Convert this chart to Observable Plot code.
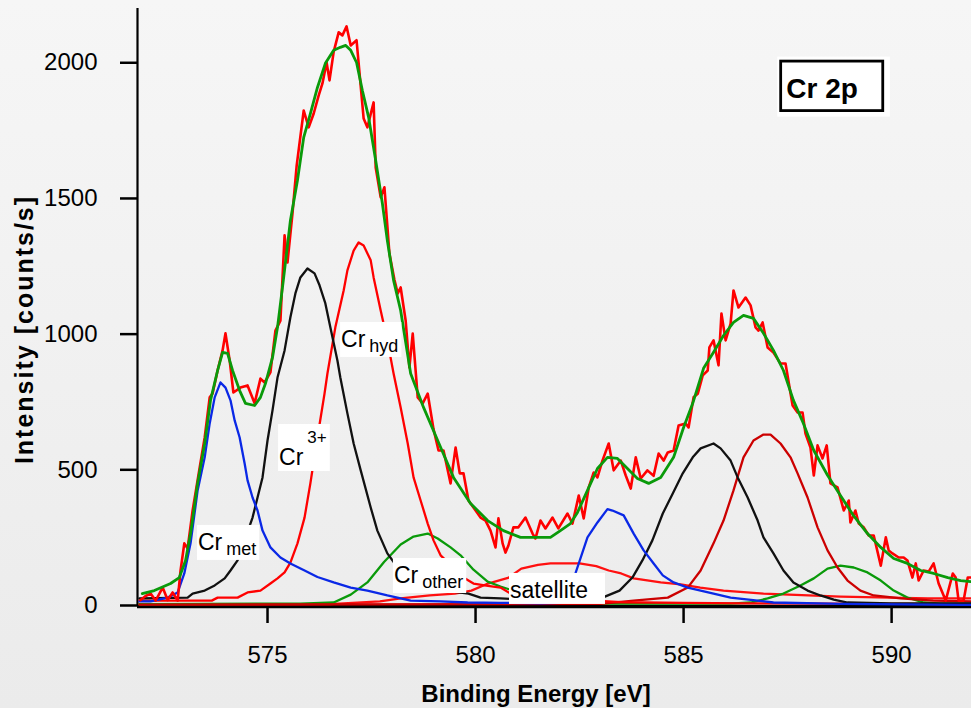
<!DOCTYPE html>
<html>
<head>
<meta charset="utf-8">
<script src="https://cdn.jsdelivr.net/npm/d3@7"></script>
<script src="https://cdn.jsdelivr.net/npm/@observablehq/plot@0.6"></script>
<style>
  html, body { margin: 0; padding: 0; }
  body { width: 971px; height: 708px; overflow: hidden;
         background: linear-gradient(#f6f6f6, #ebebeb); }
</style>
</head>
<body>
<script>
// ---------------- data (binding energy eV, intensity counts/s) ----------------
const xTicks = [575, 580, 585, 590];
const yTicks = [0, 500, 1000, 1500, 2000];
const xDomain = [571.875, 591.92];
const yDomain = [0, 2200];

// measured spectrum (raw)
const rawE = [571.95,572.07,572.19,572.31,572.48,572.60,572.72,572.84,572.91,573.00,
573.08,573.20,573.37,573.49,573.61,573.68,573.80,573.92,573.99,574.09,
574.18,574.35,574.52,574.69,574.83,574.93,575.07,575.19,575.31,575.41,
575.48,575.60,575.70,575.87,575.99,576.11,576.23,576.32,576.42,576.49,
576.59,576.71,576.80,576.90,577.00,577.14,577.31,577.40,577.55,577.60,
577.72,577.81,577.93,578.05,578.13,578.20,578.32,578.41,578.49,578.61,
578.73,578.85,578.99,579.11,579.23,579.40,579.52,579.62,579.71,579.83,
579.95,580.12,580.24,580.36,580.48,580.55,580.65,580.72,580.79,580.91,
581.03,581.20,581.37,581.44,581.56,581.68,581.85,581.99,582.21,582.33,
582.48,582.60,582.72,582.84,582.93,583.05,583.20,583.32,583.49,583.61,
583.73,583.85,583.97,584.13,584.28,584.40,584.52,584.62,584.76,584.88,
585.05,585.12,585.24,585.34,585.46,585.58,585.62,585.72,585.84,585.91,
586.01,586.13,586.20,586.32,586.49,586.61,586.73,586.80,586.90,587.02,
587.16,587.33,587.45,587.62,587.74,587.86,587.93,588.05,588.13,588.22,
588.34,588.44,588.53,588.70,588.85,588.97,589.01,589.13,589.21,589.33,
589.45,589.57,589.74,589.86,589.93,590.02,590.17,590.29,590.38,590.50,
590.58,590.65,590.77,590.89,591.01,591.13,591.30,591.47,591.54,591.61,
591.73,591.83,591.90];
const rawI = [20,35,44,18,66,20,48,18,129,229,
210,350,509,619,767,781,866,940,1003,903,
785,803,811,745,836,822,859,1013,1050,1364,
1264,1445,1620,1824,1762,1813,1880,1924,2001,1935,
2040,2112,2101,2134,2064,2083,1795,1762,1854,1614,
1504,1541,1297,1200,1150,1172,1050,877,1002,767,
745,781,650,571,571,450,582,487,487,387,
361,324,313,276,214,321,229,195,221,288,
288,324,265,247,313,284,324,284,339,302,
405,321,435,490,472,534,597,498,534,479,
431,546,468,498,478,560,534,564,571,663,
671,656,767,780,848,866,951,977,885,1076,
977,1039,1161,1098,1135,1106,1025,1013,1043,951,
932,892,892,737,711,711,634,582,479,590,
542,590,450,435,350,387,306,350,302,288,
258,258,147,251,203,192,177,177,166,103,
155,92,129,125,155,81,18,118,103,18,
18,103,103];

// fit envelope
const envE = [571.99,572.28,572.67,572.88,573.03,573.15,573.32,573.49,573.63,573.80,
573.92,574.04,574.16,574.33,574.47,574.69,574.83,574.95,575.12,575.24,
575.38,575.55,575.72,575.87,576.03,576.20,576.39,576.59,576.75,576.88,
577.00,577.14,577.28,577.43,577.60,577.76,577.88,578.03,578.20,578.44,
578.75,579.09,579.47,579.88,580.29,580.67,581.08,581.80,582.04,582.28,
582.45,582.69,582.93,583.17,583.41,583.65,583.89,584.16,584.45,584.76,
585.00,585.22,585.48,585.72,585.96,586.20,586.44,586.68,586.92,587.16,
587.40,587.64,587.88,588.13,588.46,588.77,589.09,589.42,589.74,590.05,
590.38,590.70,591.01,591.35,591.66,591.90];
const envI = [44,55,81,103,166,265,450,597,756,866,
933,929,866,792,745,737,767,818,914,1025,
1198,1419,1567,1725,1813,1909,1998,2046,2057,2064,
2046,2001,1898,1799,1640,1482,1345,1198,1087,855,
730,608,472,376,313,276,251,251,276,302,
343,424,505,546,542,505,468,450,472,546,
656,745,874,933,995,1043,1069,1058,1003,940,
866,756,671,571,480,405,330,265,214,173,
155,129,118,103,92,88];

// Cr met (blue doublet)
const metE = [571.92,572.19,572.60,572.84,573.00,573.15,573.32,573.49,573.61,573.73,
573.87,573.99,574.11,574.21,574.33,574.45,574.52,574.64,574.76,574.88,
575.07,575.31,575.55,575.89,576.20,576.59,577.00,577.40,577.88,578.44,
579.16,579.81,580.60,581.56,582.04,582.28,582.40,582.69,582.93,583.17,
583.29,583.56,583.80,584.04,584.28,584.50,584.76,585.10,585.41,585.72,
586.13,586.78,587.16,588.77,591.66,591.92];
const metI = [15,15,29,48,118,229,424,546,671,767,
822,803,756,682,619,523,461,398,350,276,
214,177,155,129,105,85,66,55,37,18,
15,11,10,8,10,60,118,251,306,355,
350,332,265,203,155,111,85,66,55,44,
29,18,11,6,2,2];

// Cr3+ (black doublet)
const cr3E = [571.92,573.08,573.20,573.49,573.73,573.97,574.11,574.28,574.45,574.64,
574.76,574.88,575.00,575.12,575.24,575.41,575.55,575.67,575.79,575.96,
576.13,576.25,576.39,576.51,576.68,576.75,576.92,577.07,577.24,577.48,
577.64,577.88,578.08,578.44,578.92,579.40,579.83,580.12,580.60,581.32,
582.00,582.80,583.05,583.46,583.77,584.01,584.25,584.50,584.74,584.98,
585.22,585.41,585.72,585.89,586.13,586.30,586.54,586.78,586.92,587.16,
587.40,587.64,587.98,588.29,588.61,588.94,590.00,591.92];
const cr3I = [26,29,44,55,74,100,129,166,240,324,
398,472,608,719,840,940,1062,1150,1209,1242,
1224,1180,1113,1025,903,840,708,597,498,361,
276,192,150,100,65,52,44,29,26,20,
18,20,29,55,103,166,240,339,413,487,
546,579,597,579,534,472,398,313,251,192,
129,85,55,37,22,11,8,8];

// Cr hyd 2p3/2 (red)
const hydE = [571.92,573.66,573.80,574.28,574.52,574.83,575.07,575.24,575.41,575.55,
575.72,575.89,576.03,576.20,576.37,576.44,576.63,576.83,576.92,577.07,
577.19,577.31,577.48,577.55,577.72,577.88,578.03,578.20,578.37,578.51,
578.68,578.85,578.99,579.16,579.40,579.64,579.95,580.30,580.60,580.84,
581.30,582.00,583.50,585.00,586.50,591.92];
const hydI = [18,18,29,29,48,55,81,100,122,158,
229,324,450,619,781,855,1025,1161,1235,1308,
1338,1327,1272,1209,1087,977,855,730,597,472,
387,302,240,185,150,110,81,72,66,44,
35,25,12,10,8,5];

// Cr hyd 2p1/2 (dark red)
const hyd2E = [571.92,583.00,583.80,584.62,585.10,585.41,585.72,585.96,586.20,586.44,
586.68,586.92,587.09,587.33,587.57,587.74,587.98,588.22,588.46,588.70,
588.94,589.25,589.57,590.22,591.00,591.92];
const hyd2I = [3,6,18,29,66,129,229,313,424,546,
608,630,630,597,546,487,398,288,203,140,
92,55,37,26,18,15];

// Cr other (green doublet)
const othE = [571.92,575.79,576.59,577.00,577.40,577.80,578.20,578.51,578.85,579.09,
579.40,579.64,579.95,580.29,580.60,580.84,581.30,582.00,583.00,586.13,
586.61,587.02,587.40,587.81,588.13,588.46,588.77,589.09,589.42,589.74,
590.05,590.38,590.77,591.18,591.92];
const othI = [5,7,11,40,85,160,225,254,265,247,
214,185,132,88,70,58,38,15,7,7,
11,26,44,74,100,136,147,140,122,92,
55,29,11,7,7];

// satellite (red)
const satE = [571.92,576.50,577.70,578.20,578.90,579.50,579.90,580.30,580.80,581.10,
581.50,581.80,582.50,582.90,583.20,583.50,583.80,584.45,584.93,585.40,
585.96,586.92,588.77,590.87,591.92];
const satI = [5,5,15,26,37,44,55,81,103,136,
150,155,155,145,129,118,100,85,78,66,
55,44,33,26,26];

// annotation labels (anchored in data units)
const labelMain = ["Cr", "Cr", "Cr", "Cr", "satellite"];
const labelSub  = ["met", "", "hyd", "other", ""];
const labelSup  = ["", "3+", "", "", ""];
const labelE    = [573.34, 575.29, 576.78, 578.05, 580.84];
const labelI    = [203, 516, 951, 81, 26];
const titleText = "Cr 2p";
const titleE = 587.48, titleI = 1868;
const xLabel = "Binding Energy [eV]";
const yLabel = "Intensity [counts/s]";

// ---------------- chart ----------------
const pts = (E, I) => E.slice(0, Math.min(E.length, I.length)).map((e, i) => ({e, v: I[i]}));
const line = (E, I, color, w) => Plot.line(pts(E, I), {
  x: "e", y: "v", stroke: color, strokeWidth: w, strokeLinejoin: "round", strokeLinecap: "round"
});

function annotations(index, scales, values, dims) {
  const sx = scales.x, sy = scales.y;
  const g = d3.create("svg:g").attr("text-anchor", "start");
  for (let i = 0; i < labelMain.length; i++) {
    const isSat = labelMain[i] === "satellite";
    const lg = g.append("g").attr("class", "lbl")
      .attr("data-pr", isSat ? 17 : 3)
      .attr("transform", `translate(${sx(labelE[i])},${sy(labelI[i])})`);
    lg.append("rect").attr("fill", "white");
    const t = lg.append("text").attr("fill", "black").attr("font-size", 23);
    t.append("tspan").text(labelMain[i]);
    if (labelSub[i]) t.append("tspan").attr("dx", 4).attr("dy", 5).attr("font-size", 18).text(labelSub[i]);
    if (labelSup[i]) t.append("tspan").attr("dx", 4).attr("dy", -22).attr("font-size", 17).text(labelSup[i]);
  }
  const tg = g.append("g").attr("class", "ttl")
    .attr("transform", `translate(${sx(titleE)},${sy(titleI)})`);
  tg.append("rect").attr("class", "outer").attr("fill", "white");
  tg.append("rect").attr("class", "inner").attr("fill", "none").attr("stroke", "black").attr("stroke-width", 2.8);
  tg.append("text").attr("fill", "black").attr("font-size", 28).attr("font-weight", "bold").text(titleText);

  // axis titles
  const W = dims.width, H = dims.height;
  const cx = (dims.marginLeft + W - dims.marginRight) / 2;
  const cy = (dims.marginTop + H - dims.marginBottom) / 2;
  g.append("text").attr("text-anchor", "middle").attr("font-size", 24).attr("font-weight", "bold")
    .attr("fill", "black")
    .attr("transform", `translate(${cx - 18},${H - 6})`).text(xLabel);
  g.append("text").attr("text-anchor", "middle").attr("font-size", 25).attr("font-weight", "bold")
    .attr("fill", "black").style("letter-spacing", "2px")
    .attr("transform", `translate(33,${cy + 23}) rotate(-90)`).text(yLabel);
  return g.node();
}

const chart = Plot.plot({
  width: 971,
  height: 708,
  marginLeft: 137,
  marginRight: 0,
  marginTop: 8,
  marginBottom: 103,
  style: {background: "transparent", color: "black", fontFamily: "'Liberation Sans', Arial, sans-serif"},
  x: {domain: xDomain},
  y: {domain: yDomain},
  marks: [
    Plot.axisX({ticks: xTicks, tickSize: 18, tickPadding: 22, fontSize: 24, label: null, strokeWidth: 2.5, tickFormat: d => String(d)}),
    Plot.axisY({ticks: yTicks, tickSize: 17, tickPadding: 23, fontSize: 24, label: null, strokeWidth: 2.5, tickFormat: d => String(d)}),
    Plot.ruleY([yDomain[0]], {stroke: "black", strokeWidth: 3.5, dy: 1}),
    Plot.ruleX([xDomain[0]], {stroke: "black", strokeWidth: 2.2}),
    line(satE, satI, "#ff1010", 2.3),
    line(othE, othI, "#0a9a0a", 2.3),
    line(hyd2E, hyd2I, "#cc0000", 2.3),
    line(hydE, hydI, "#ff0000", 2.3),
    line(cr3E, cr3I, "#111111", 2.3),
    line(metE, metI, "#0a28e6", 2.3),
    line(rawE, rawI, "#ff0000", 2.6),
    line(envE, envI, "#0a9a0a", 2.8),
    annotations
  ]
});

document.body.append(chart);

// size the white label boxes from the rendered text
document.querySelectorAll(".lbl").forEach(lg => {
  const b = lg.querySelector("text").getBBox();
  const pr = +lg.getAttribute("data-pr");
  const r = lg.querySelector("rect");
  r.setAttribute("x", b.x - 1);
  r.setAttribute("y", b.y - 4);
  r.setAttribute("width", b.width + 1 + pr);
  r.setAttribute("height", b.height + 5);
});
document.querySelectorAll(".ttl").forEach(tg => {
  const b = tg.querySelector("text").getBBox();
  const o = tg.querySelector("rect.outer");
  o.setAttribute("x", b.x - 9); o.setAttribute("y", b.y - 16.5);
  o.setAttribute("width", b.width + 41); o.setAttribute("height", b.height + 29);
  const n = tg.querySelector("rect.inner");
  n.setAttribute("x", b.x - 5.6); n.setAttribute("y", b.y - 12);
  n.setAttribute("width", b.width + 30.5); n.setAttribute("height", b.height + 18.5);
});
</script>
</body>
</html>
